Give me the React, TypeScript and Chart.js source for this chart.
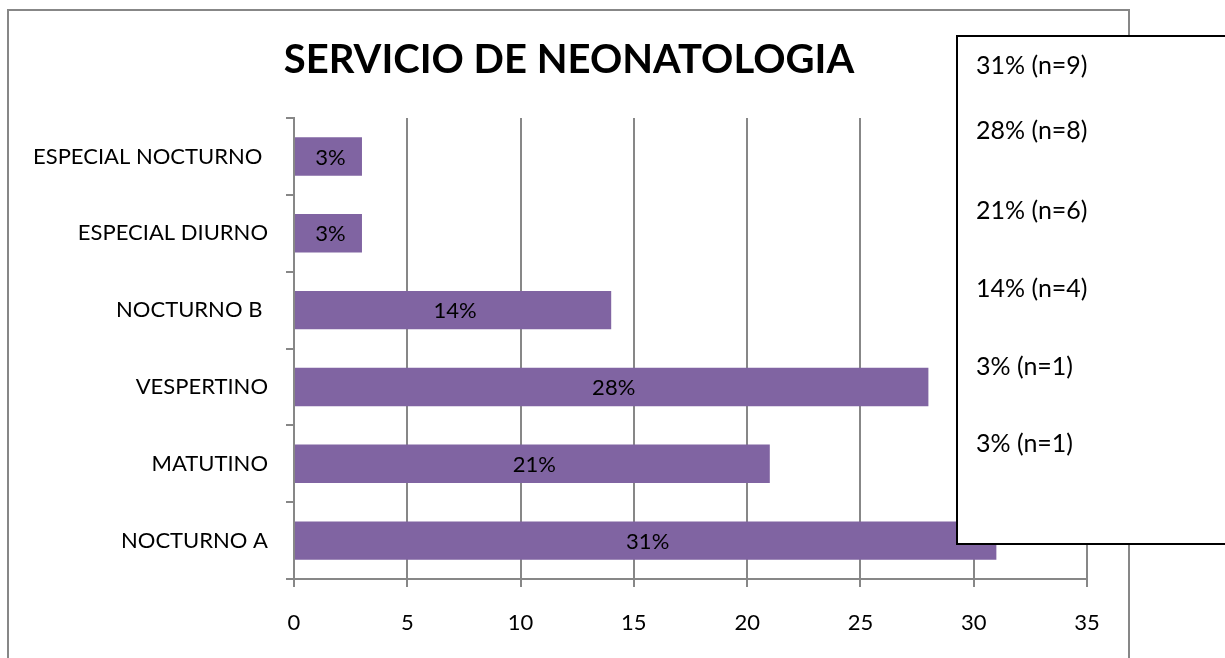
import React, { useEffect, useRef } from "react";
import { Chart, registerables } from "chart.js";

Chart.register(...registerables);

const categories = [
  "ESPECIAL NOCTURNO ",
  "ESPECIAL DIURNO",
  "NOCTURNO B ",
  "VESPERTINO",
  "MATUTINO",
  "NOCTURNO A",
];
const values = [3, 3, 14, 28, 21, 31];
const barLabels = ["3%", "3%", "14%", "28%", "21%", "31%"];
const boxTexts = ["31% (n=9)", "28% (n=8)", "21% (n=6)", "14% (n=4)", "3% (n=1)", "3% (n=1)"];
const titleText = "SERVICIO DE NEONATOLOGIA";
const xMin = 0;
const xMax = 35;
const xStep = 5;

const FONT = "Lato";
const FS = 22;
const BOX_FS = 25;
const GRAY = "#878787";
const BAR = "#8064A2";

export default function App() {
  const ref = useRef<HTMLCanvasElement | null>(null);

  useEffect(() => {
    if (!ref.current) return;

    const decor = {
      id: "decor",
      beforeDraw(chart: any) {
        const c = chart.ctx;
        c.save();
        c.fillStyle = "#fff";
        c.fillRect(0, 0, chart.width, chart.height);
        c.restore();
      },
      afterDatasetsDraw(chart: any) {
        const c = chart.ctx;
        const meta = chart.getDatasetMeta(0);
        c.save();
        c.fillStyle = "#000";
        c.font = `${FS}px ${FONT}`;
        c.textAlign = "center";
        c.textBaseline = "middle";
        meta.data.forEach((el: any, i: number) => {
          const p = el.getProps(["x", "y", "base"], true);
          c.fillText(barLabels[i], (p.x + p.base) / 2 + 2, p.y + 1);
        });
        c.restore();
      },
      afterDraw(chart: any) {
        const c = chart.ctx;
        c.save();
        // outer frame
        c.strokeStyle = GRAY;
        c.lineWidth = 2;
        c.strokeRect(8, 10, 1121, 700);
        // title
        c.fillStyle = "#000";
        c.font = `bold 40px ${FONT}`;
        c.textAlign = "center";
        c.textBaseline = "middle";
        c.fillText(titleText, 569, 60);
        // overlay box
        c.fillStyle = "#fff";
        c.fillRect(957, 36, 300, 508);
        c.strokeStyle = "#000";
        c.lineWidth = 2;
        c.strokeRect(957, 36, 300, 508);
        c.fillStyle = "#000";
        c.font = `${BOX_FS}px ${FONT}`;
        c.textAlign = "left";
        const ys = [66, 131, 211, 289, 367, 444];
        boxTexts.forEach((t, i) => c.fillText(t, 976, ys[i]));
        c.restore();
      },
    };

    const chart = new Chart(ref.current, {
      type: "bar",
      data: {
        labels: categories,
        datasets: [
          {
            data: values,
            backgroundColor: BAR,
            barPercentage: 0.5,
            categoryPercentage: 1.0,
          },
        ],
      },
      options: {
        indexAxis: "y",
        responsive: false,
        animation: false,
        devicePixelRatio: 1,
        layout: { padding: { top: 118, right: 138, bottom: 0, left: 0 } },
        plugins: {
          legend: { display: false },
          tooltip: { enabled: false },
          title: { display: false },
        },
        scales: {
          x: {
            type: "linear",
            min: xMin,
            max: xMax,
            ticks: {
              stepSize: xStep,
              color: "#000",
              font: { family: FONT, size: FS },
              padding: 23,
            },
            grid: { color: GRAY, lineWidth: 2, tickLength: 8, drawTicks: true },
            border: { color: GRAY, width: 2 },
            afterFit: (s: any) => {
              s.height = 79;
            },
          },
          y: {
            type: "category",
            grid: {
              drawOnChartArea: false,
              offset: true,
              tickLength: 8,
              color: GRAY,
              lineWidth: 2,
            },
            border: { color: GRAY, width: 2 },
            ticks: {
              color: "#000",
              font: { family: FONT, size: FS },
              padding: 18,
            },
            afterFit: (s: any) => {
              s.width = 294;
            },
          },
        },
      },
      plugins: [decor],
    } as any);

    return () => chart.destroy();
  }, []);

  return (
    <div style={{ position: "absolute", left: 0, top: 0, width: 1225, height: 658 }}>
      <canvas ref={ref} width={1225} height={658} style={{ width: 1225, height: 658 }} />
    </div>
  );
}
